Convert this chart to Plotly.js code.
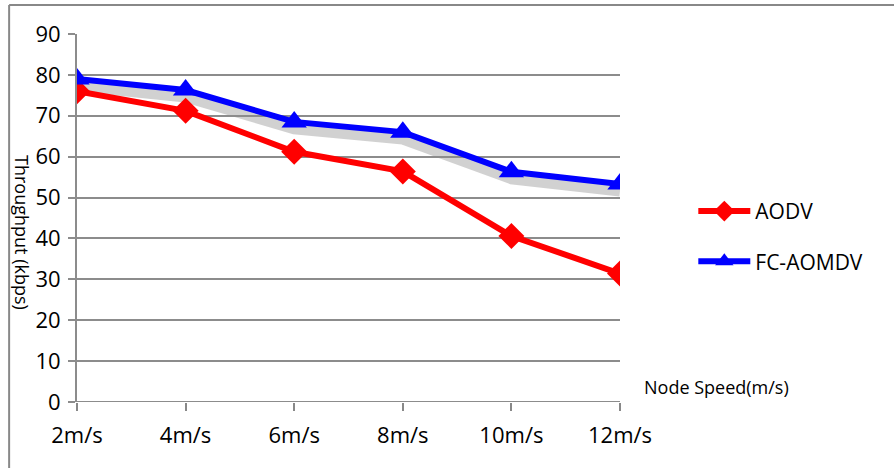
<!DOCTYPE html>
<html>
<head>
<meta charset="utf-8">
<script src="https://cdn.plot.ly/plotly-3.0.1.min.js"></script>
<style>html,body{margin:0;padding:0;background:#fff;}#chart{width:894px;height:468px;}</style>
</head>
<body>
<div id="chart"></div>
<script>
const categories = ["2m/s", "4m/s", "6m/s", "8m/s", "10m/s", "12m/s"];
const aodv = [76, 71.2, 61.2, 56.4, 40.6, 31.4];
const fcAomdv = [79, 76.3, 68.5, 66, 56.3, 53.3];
const yTicks = [0, 10, 20, 30, 40, 50, 60, 70, 80, 90];

const font = "Open Sans, Noto Sans, sans-serif";
const shadowOffset = 1.7;

const traces = [
  {
    x: categories, y: fcAomdv.map(v => v - shadowOffset),
    mode: "lines", line: {color: "rgba(140,140,140,0.4)", width: 11},
    showlegend: false, hoverinfo: "skip"
  },
  {
    x: categories, y: aodv, name: "AODV", legendgroup: "a",
    mode: "lines+markers",
    line: {color: "#ff0000", width: 6},
    marker: {symbol: "diamond", size: 20, color: "#ff0000"}
  },
  {
    x: categories, y: fcAomdv, name: "FC-AOMDV", legendgroup: "b",
    mode: "lines+markers",
    line: {color: "#0000ff", width: 6},
    marker: {symbol: "triangle-up", size: 22, color: "#0000ff"}
  }
];

const layout = {
  width: 894, height: 468,
  margin: {l: 77, r: 274, t: 34, b: 66},
  paper_bgcolor: "#fff", plot_bgcolor: "#fff",
  font: {family: font, color: "#000"},
  showlegend: true,
  legend: {
    x: 1.135, y: 0.45, xanchor: "left", yanchor: "middle",
    font: {size: 21, family: font, color: "#000"},
    tracegroupgap: 20, itemwidth: 52, bgcolor: "rgba(0,0,0,0)"
  },
  xaxis: {
    type: "category", range: [0, 5],
    showgrid: false, zeroline: false,
    showline: false,
    ticks: "outside", ticklen: 8, tickwidth: 2, tickcolor: "#888",
    tickfont: {size: 22, family: font, color: "#000"},
    ticklabelstandoff: 6,
    fixedrange: true
  },
  yaxis: {
    range: [0, 90], tickvals: yTicks, ticktext: yTicks.map(String),
    showgrid: true, gridcolor: "#8c8c8c", gridwidth: 2,
    zeroline: false,
    showline: true, linecolor: "#8c8c8c", linewidth: 2,
    ticks: "outside", ticklen: 7, tickwidth: 2, tickcolor: "#8c8c8c",
    tickfont: {size: 22, family: font, color: "#000"},
    ticklabelstandoff: 3,
    fixedrange: true
  },
  shapes: [
    {type: "line", xref: "paper", yref: "y", x0: 0, x1: 1, y0: 0, y1: 0, line: {color: "#8c8c8c", width: 2}, layer: "below"},
    {type: "line", xref: "paper", yref: "paper", x0: -0.125, x1: -0.125, y0: -0.2, y1: 1.079, line: {color: "#888", width: 2}},
    {type: "line", xref: "paper", yref: "paper", x0: -0.125, x1: 1.6, y0: 1.079, y1: 1.079, line: {color: "#888", width: 2}}
  ],
  annotations: [
    {text: "Throughput (kbps)", xref: "paper", yref: "paper", x: -0.1, y: 0.46,
     xanchor: "center", yanchor: "middle", textangle: 90, showarrow: false,
     font: {size: 18, family: font, color: "#000"}},
    {text: "Node Speed(m/s)", xref: "paper", yref: "paper", x: 1.04, y: 0.04,
     xanchor: "left", yanchor: "middle", showarrow: false,
     font: {size: 18, family: font, color: "#000"}}
  ]
};

Plotly.newPlot("chart", traces, layout, {displayModeBar: false, staticPlot: true});
</script>
</body>
</html>
